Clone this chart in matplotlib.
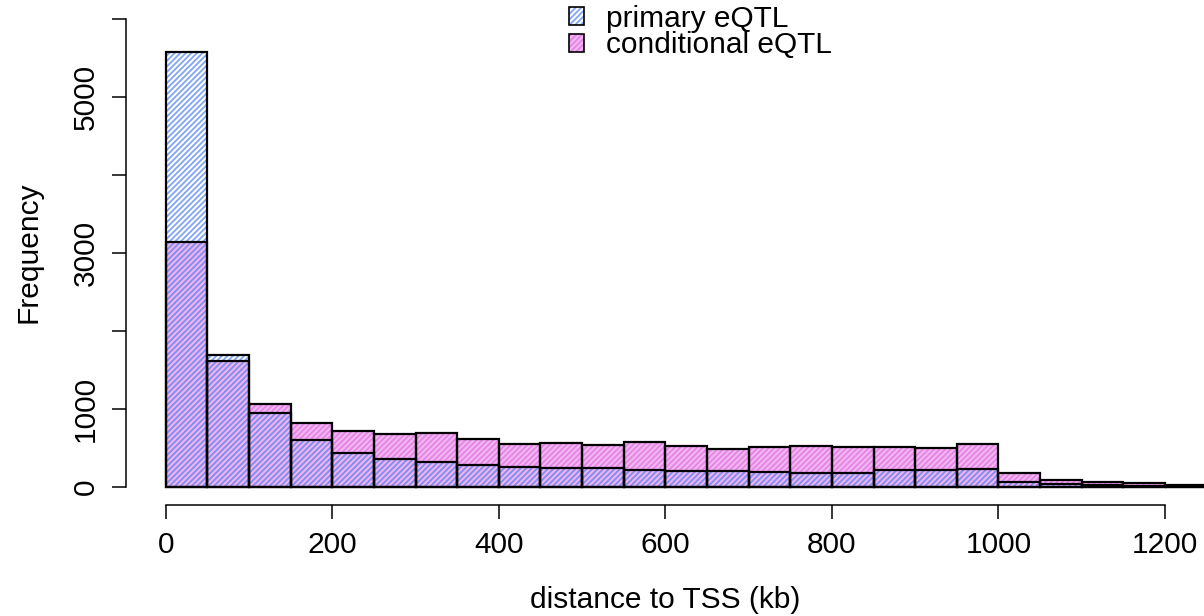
import numpy as np
import matplotlib
matplotlib.use("Agg")
import matplotlib.pyplot as plt
from matplotlib.patches import Patch

# histogram counts, bins of 50 kb
bin_edges = np.arange(0, 1251, 50)
primary = [5577, 1692, 949, 603, 436, 359, 321, 282, 256, 240, 240, 218, 201,
           201, 192, 184, 184, 214, 218, 231, 68, 38, 25, 13, 10]
conditional = [3145, 1615, 1064, 820, 718, 679, 692, 615, 551, 564, 538, 577,
               530, 491, 513, 530, 517, 513, 504, 555, 175, 90, 64, 51, 25]
labels = ["primary eQTL", "conditional eQTL"]
yticks = [0, 1000, 2000, 3000, 4000, 5000, 6000]
ylabels = ["0", "1000", "", "3000", "", "5000", ""]
xticks = [0, 200, 400, 600, 800, 1000, 1200]

plt.rcParams["font.family"] = ["Liberation Sans", "DejaVu Sans"]
plt.rcParams["hatch.linewidth"] = 1.3

blue = (0.42, 0.59, 0.95, 0.85)
pink_fill = (0.92, 0.50, 0.92, 0.58)
pink_line = (0.85, 0.40, 0.85, 0.6)
HATCH = "//////"

W, H = 1204, 616
fig = plt.figure(figsize=(W / 100, H / 100), dpi=100)
# axes placed by pixel: left 126, bottom 505, right edge of figure, top of figure
ax = fig.add_axes([126 / W, 1 - 505 / H, 1 - 126 / W, 505 / H])
ax.set_xlim(-47.7, 1246.8)
ax.set_ylim(-231, 6244)

left = bin_edges[:-1]
# conditional fill underneath, primary hatching laid over it
ax.bar(left, conditional, width=50, align="edge", facecolor=pink_fill,
       edgecolor=pink_line, linewidth=0, hatch=HATCH)
ax.bar(left, primary, width=50, align="edge", facecolor="none",
       edgecolor=blue, linewidth=0, hatch=HATCH)
ax.bar(left, primary, width=50, align="edge", fill=False,
       edgecolor="black", linewidth=1.6)
ax.bar(left, conditional, width=50, align="edge", fill=False,
       edgecolor="black", linewidth=1.6)

for s in ["top", "right"]:
    ax.spines[s].set_visible(False)
ax.spines["left"].set_bounds(0, 6000)
ax.spines["bottom"].set_bounds(0, 1200)
ax.spines["left"].set_linewidth(1.1)
ax.spines["bottom"].set_linewidth(1.1)

ax.set_yticks(yticks)
ax.set_yticklabels(ylabels, rotation=90, va="center")
ax.set_xticks(xticks)
ax.set_xticklabels([str(v) for v in xticks])
ax.tick_params(length=10, width=1.1, labelsize=21.5)
ax.tick_params(axis="x", pad=9)
ax.tick_params(axis="y", pad=9)

ax.set_xlabel("distance to TSS (kb)", fontsize=21.5, labelpad=19)
ax.set_ylabel("Frequency", fontsize=21.5, labelpad=21)

frame = dict(fill=False, edgecolor="black", linewidth=1.2)
handles = [
    (Patch(facecolor="white", edgecolor=blue, hatch=HATCH, linewidth=0), Patch(**frame)),
    (Patch(facecolor=pink_fill, edgecolor=pink_line, hatch=HATCH, linewidth=0), Patch(**frame)),
]
fig.legend(handles, labels, loc="upper left",
           bbox_to_anchor=(563 / W, 1 + 1 / H), frameon=False,
           fontsize=21.5, handlelength=0.5, handleheight=0.55,
           handletextpad=0.75, labelspacing=-0.05, borderaxespad=0,
           borderpad=0.2)

fig.savefig("out.png", dpi=100)
